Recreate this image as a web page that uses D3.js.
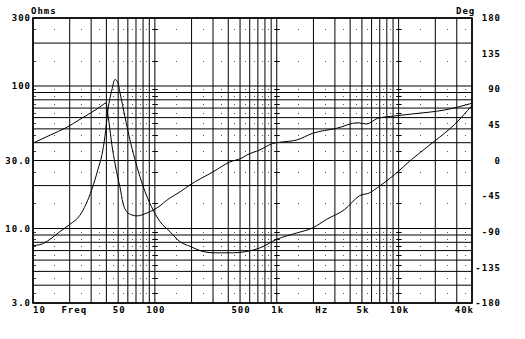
<!DOCTYPE html>
<html>
<head>
<meta charset="utf-8">
<script src="https://cdn.jsdelivr.net/npm/d3@7"></script>
<style>
  body { margin: 0; background: #fff; }
  text { font-family: "DejaVu Sans Mono", monospace; font-weight: bold; font-size: 9px; letter-spacing: 1px; fill: #000; }
</style>
</head>
<body>
<div id="chart"></div>
<script>
// impedance curve (Hz, Ohms)
var impFreq = [10, 11.4, 13.8, 16.6, 20.1, 24.3, 27.2, 30.4, 34.1, 36.8, 38.9, 41.2, 44.4, 47, 49.7, 51.7, 56.8, 62.4, 68.6, 75.3, 86, 96.3, 110, 133, 160, 194, 248, 300, 436, 568, 726, 1000, 1460, 1970, 2570, 3610, 4790, 5790, 6730, 9270, 12780, 19730, 28770, 40000];
var impOhm  = [7.6, 7.7, 8.4, 9.5, 10.7, 12.4, 14.8, 18.8, 25.9, 33, 44, 68, 94, 111, 106, 90, 61, 42, 30.5, 23.2, 16.8, 13.6, 11.2, 9.5, 8.1, 7.5, 6.9, 6.75, 6.75, 6.9, 7.3, 8.4, 9.3, 10.1, 11.6, 13.6, 17.0, 17.8, 19.4, 23.9, 30.5, 41, 53.7, 73];

// phase curve (Hz, degrees)
var phaseFreq = [10, 13.8, 19, 24.3, 30.4, 35.4, 38.2, 39.7, 41.2, 42.8, 44.4, 47, 49.7, 51.7, 54.7, 59, 64.8, 71.2, 86, 103.8, 132.7, 160.3, 193.6, 298.8, 412, 517, 568, 726, 927, 1058, 1458, 1973, 3103, 4612, 5467, 6730, 9274, 12780, 23820, 40000];
var phaseDeg  = [22, 32, 42, 52, 61, 67.6, 71.4, 72.6, 57.5, 38.5, 19.6, -3.2, -22, -33.5, -53.7, -65, -68.8, -70, -66.3, -60, -47.4, -39.8, -30.9, -14.5, -1.9, 3.2, 6.9, 13.3, 21.5, 23, 25.9, 34.4, 40.7, 47.7, 46.1, 53.3, 56.2, 58.7, 63.8, 72.3];

// ticks and labels
var freqTicks  = [10, 50, 100, 500, 1000, 5000, 10000, 40000];
var freqLabels = ["10", "50", "100", "500", "1k", "5k", "10k", "40k"];
var ohmTicks   = [3, 10, 30, 100, 300];
var ohmLabels  = ["3.0", "10.0", "30.0", "100", "300"];
var degTicks   = [-180, -135, -90, -45, 0, 45, 90, 135, 180];

// grid
var freqGrid = [10, 20, 30, 40, 50, 60, 70, 80, 90, 100, 200, 300, 400, 500, 600, 700, 800, 900, 1000,
                2000, 3000, 4000, 5000, 6000, 7000, 8000, 9000, 10000, 20000, 30000, 40000];
var freqDots = [15, 25, 35, 45, 55, 65, 75, 85, 95, 150, 250, 350, 450, 550, 650, 750, 850, 950,
                1500, 2500, 3500, 4500, 5500, 6500, 7500, 8500, 9500, 15000, 25000, 35000];
var ohmGrid  = [3, 4, 5, 6, 7, 8, 9, 10, 20, 30, 40, 50, 60, 70, 80, 90, 100, 200, 300];
var ohmDots  = [3.5, 4.5, 5.5, 6.5, 7.5, 8.5, 9.5, 15, 25, 35, 45, 55, 65, 75, 85, 95, 150, 250];
var decades  = [100, 1000, 10000];

var W = 525, H = 339;
var pLeft = 33, pRight = 472, pTop = 18, pBottom = 303;

var svg = d3.select("#chart")
  .append("svg")
    .attr("width", W)
    .attr("height", H);

svg.append("rect").attr("width", W).attr("height", H).attr("fill", "#fff");

var x = d3.scaleLog().domain([10, 40000]).range([pLeft, pRight]);
var y = d3.scaleLog().domain([3, 300]).range([pBottom, pTop]);
var yDeg = d3.scaleLinear().domain([-180, 180]).range([pBottom, pTop]);

// dots at half steps
var dotData = [];
freqDots.forEach(function(f) {
  ohmDots.forEach(function(o) { dotData.push([f, o]); });
});
svg.append("g").selectAll("rect")
  .data(dotData)
  .enter().append("rect")
    .attr("x", function(d) { return Math.round(x(d[0])); })
    .attr("y", function(d) { return Math.round(y(d[1])); })
    .attr("width", 1)
    .attr("height", 1)
    .attr("fill", "#555");

// little dashes on decade lines and borders
var dashData = [];
decades.forEach(function(f) {
  ohmDots.forEach(function(o) { dashData.push([f, o]); });
});
svg.append("g").selectAll("line")
  .data(dashData)
  .enter().append("line")
    .attr("x1", function(d) { return x(d[0]) - 2; })
    .attr("x2", function(d) { return x(d[0]) + 3; })
    .attr("y1", function(d) { return Math.round(y(d[1])) + 0.5; })
    .attr("y2", function(d) { return Math.round(y(d[1])) + 0.5; })
    .attr("stroke", "#000")
    .attr("stroke-width", 1);

svg.append("g").selectAll("line")
  .data(ohmDots)
  .enter().append("line")
    .attr("x1", pLeft).attr("x2", pLeft + 3)
    .attr("y1", function(d) { return Math.round(y(d)) + 0.5; })
    .attr("y2", function(d) { return Math.round(y(d)) + 0.5; })
    .attr("stroke", "#444");

// grid lines
svg.append("g").selectAll("line")
  .data(freqGrid)
  .enter().append("line")
    .attr("x1", function(d) { return x(d); })
    .attr("x2", function(d) { return x(d); })
    .attr("y1", pTop)
    .attr("y2", pBottom)
    .attr("stroke", "#000")
    .attr("stroke-width", 1);

svg.append("g").selectAll("line")
  .data(ohmGrid)
  .enter().append("line")
    .attr("x1", pLeft)
    .attr("x2", pRight)
    .attr("y1", function(d) { return y(d); })
    .attr("y2", function(d) { return y(d); })
    .attr("stroke", "#000")
    .attr("stroke-width", 1);

// frame
svg.append("rect")
  .attr("x", pLeft).attr("y", pTop)
  .attr("width", pRight - pLeft).attr("height", pBottom - pTop)
  .attr("fill", "none")
  .attr("stroke", "#000")
  .attr("stroke-width", 1.6);

// curves
var impLine = d3.line()
  .x(function(d, i) { return x(impFreq[i]); })
  .y(function(d) { return y(d); })
  .curve(d3.curveMonotoneX);

var phaseLine = d3.line()
  .x(function(d, i) { return x(phaseFreq[i]); })
  .y(function(d) { return yDeg(d); })
  .curve(d3.curveMonotoneX);

svg.append("path")
  .attr("d", impLine(impOhm))
  .attr("fill", "none")
  .attr("stroke", "#000")
  .attr("stroke-width", 1);

svg.append("path")
  .attr("d", phaseLine(phaseDeg))
  .attr("fill", "none")
  .attr("stroke", "#000")
  .attr("stroke-width", 1);

// left axis labels
svg.append("g").selectAll("text")
  .data(ohmTicks)
  .enter().append("text")
    .attr("x", 31)
    .attr("y", function(d) { return y(d); })
    .attr("dy", "0.35em")
    .attr("text-anchor", "end")
    .text(function(d, i) { return ohmLabels[i]; });

svg.append("text").attr("x", 31).attr("y", 14).text("Ohms");

// right axis labels
svg.append("g").selectAll("text")
  .data(degTicks)
  .enter().append("text")
    .attr("x", 501)
    .attr("y", function(d) { return yDeg(d); })
    .attr("dy", "0.35em")
    .attr("text-anchor", "end")
    .text(function(d) { return d; });

svg.append("text").attr("x", 456).attr("y", 14).text("Deg");

// bottom labels
svg.append("g").selectAll("text")
  .data(freqTicks)
  .enter().append("text")
    .attr("x", function(d, i) {
      if (i == 0) return x(d);
      if (i == freqTicks.length - 1) return x(d) + 2;
      return x(d) + 1;
    })
    .attr("y", 313)
    .attr("text-anchor", function(d, i) {
      if (i == 0) return "start";
      if (i == freqTicks.length - 1) return "end";
      return "middle";
    })
    .text(function(d, i) { return freqLabels[i]; });

svg.append("text").attr("x", x(21.8)).attr("y", 313).attr("text-anchor", "middle").text("Freq");
svg.append("text").attr("x", x(2340)).attr("y", 313).attr("text-anchor", "middle").text("Hz");
</script>
</body>
</html>
